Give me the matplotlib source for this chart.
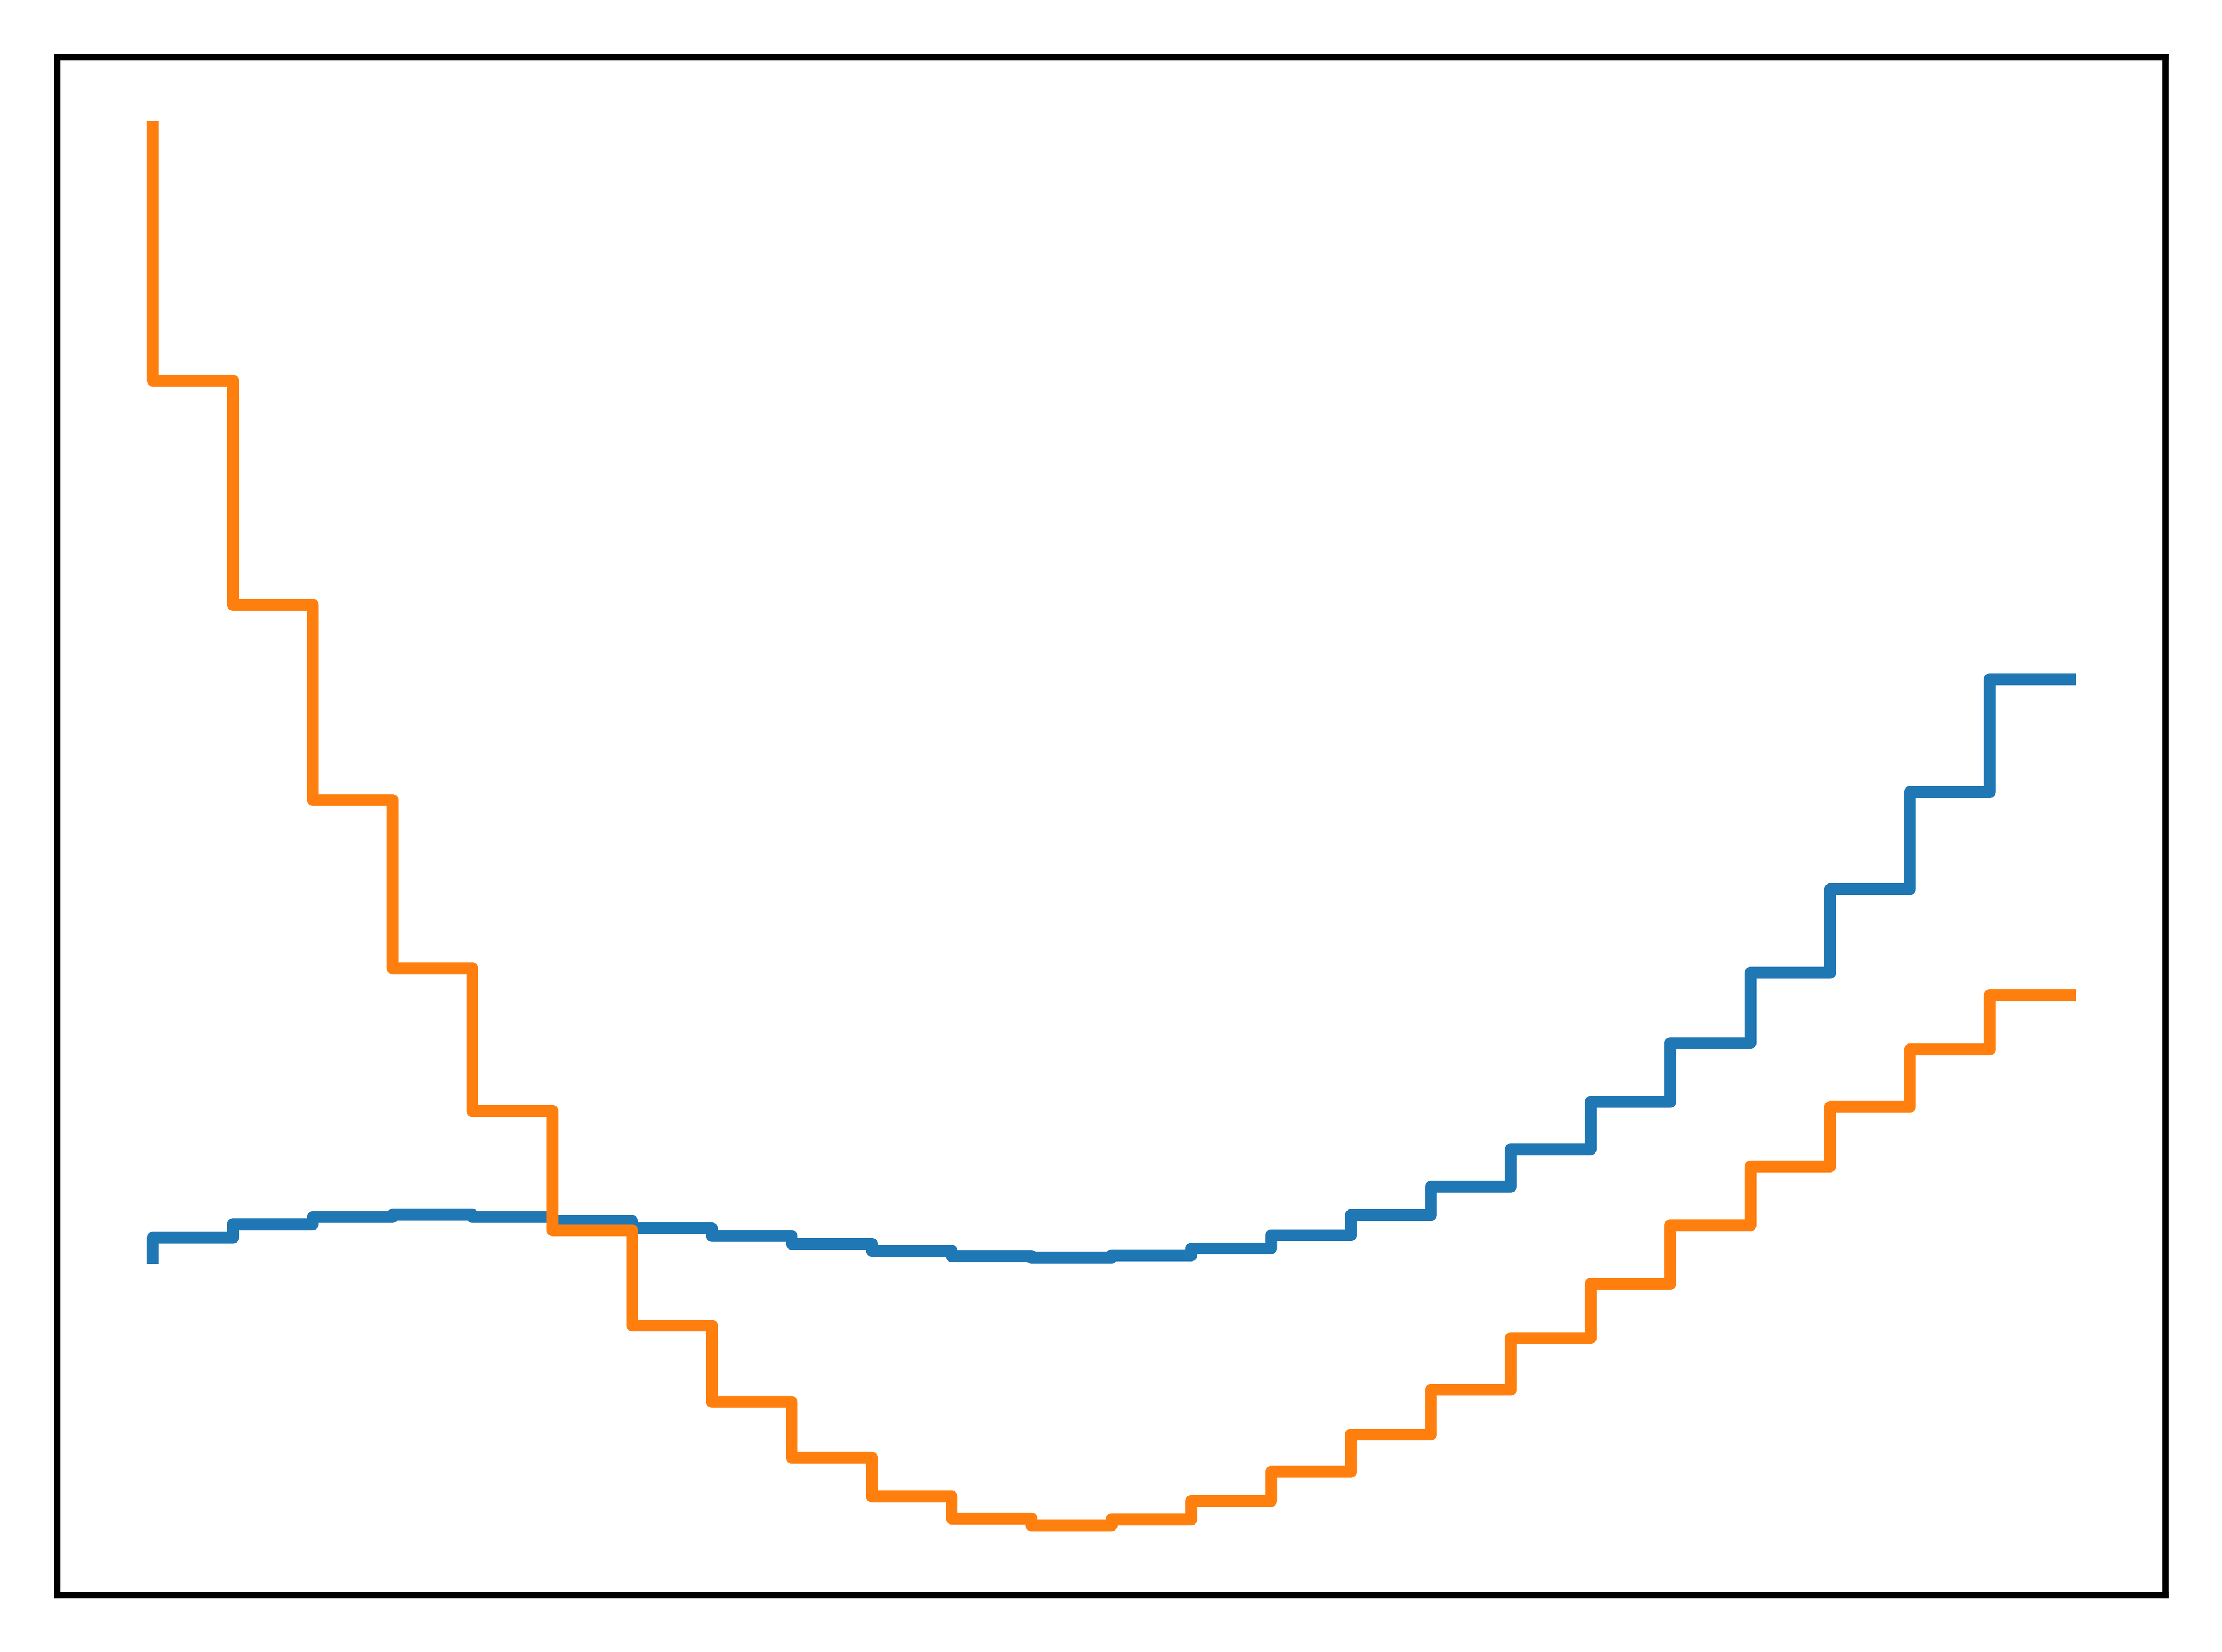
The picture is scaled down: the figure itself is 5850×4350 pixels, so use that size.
import numpy as np
import matplotlib
matplotlib.use("Agg")
import matplotlib.pyplot as plt

# step index (25 points, drawn with where="pre")
steps = np.arange(25)

# values (arbitrary units, no axis labels in the original)
blue_vals = [
    0.888, 0.942, 0.977, 0.996, 1.002, 0.996, 0.985, 0.966, 0.946, 0.925,
    0.907, 0.893, 0.889, 0.895, 0.913, 0.948, 1.001, 1.076, 1.174, 1.299,
    1.454, 1.639, 1.859, 2.115, 2.412,
]
orange_vals = [
    3.866, 3.198, 2.608, 2.094, 1.651, 1.275, 0.961, 0.710, 0.509, 0.362,
    0.260, 0.202, 0.184, 0.200, 0.248, 0.325, 0.423, 0.541, 0.677, 0.820,
    0.974, 1.129, 1.286, 1.437, 1.580,
]


def plot_steps():
    fig = plt.figure(figsize=(5.85, 4.35), dpi=1000)
    ax = fig.add_axes([150 / 5850, 150 / 4350, 5551 / 5850, 4050 / 4350])

    ax.step(steps, blue_vals, color="C0", lw=2.25)
    ax.step(steps, orange_vals, color="C1", lw=2.25)

    ax.set_xticks([])
    ax.set_yticks([])
    for sp in ax.spines.values():
        sp.set_linewidth(1.2)

    fig.savefig("out.png", dpi=1000)


if __name__ == "__main__":
    plot_steps()
